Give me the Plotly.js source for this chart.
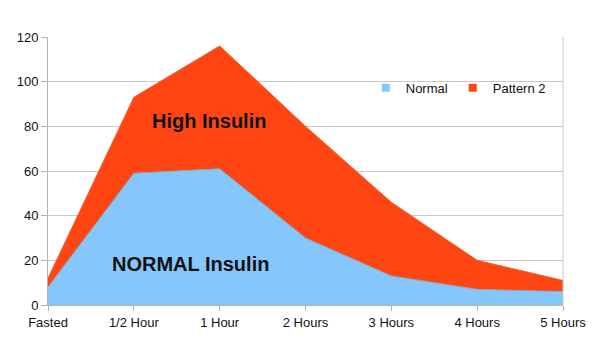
<!DOCTYPE html>
<html>
<head>
<meta charset="utf-8">
<script src="https://cdn.plot.ly/plotly-3.0.1.min.js"></script>
<style>html,body{margin:0;padding:0;background:#fff;}#chart{width:610px;height:364px;}</style>
</head>
<body>
<div id="chart"></div>
<script>
var categories = ["Fasted", "1/2 Hour", "1 Hour", "2 Hours", "3 Hours", "4 Hours", "5 Hours"];
var normalValues = [8, 59, 61, 30, 13, 7, 6];
var pattern2Values = [12, 93, 116, 80, 46, 20, 11];
var seriesNames = ["Normal", "Pattern 2"];
var yTicks = [0, 20, 40, 60, 80, 100, 120];

var blue = "#85C7FA";
var red = "#FF4512";

var traces = [
  {x: categories, y: pattern2Values, type: "scatter", mode: "lines", fill: "tozeroy",
   fillcolor: red, line: {color: "#f0602e", width: 1}, showlegend: false, hoverinfo: "skip"},
  {x: categories, y: normalValues, type: "scatter", mode: "lines", fill: "tozeroy",
   fillcolor: blue, line: {color: "#8fa9c0", width: 1}, showlegend: false, hoverinfo: "skip"},
  {x: [null], y: [null], type: "scatter", mode: "markers", name: seriesNames[0],
   marker: {symbol: "square", size: 8, color: blue}},
  {x: [null], y: [null], type: "scatter", mode: "markers", name: seriesNames[1],
   marker: {symbol: "square", size: 8, color: red}}
];

var layout = {
  width: 610, height: 364,
  margin: {l: 48, r: 47, t: 37, b: 59, autoexpand: false},
  paper_bgcolor: "#ffffff", plot_bgcolor: "#ffffff",
  font: {family: "Liberation Sans, Arial, sans-serif", size: 13, color: "#111"},
  xaxis: {type: "category", categoryarray: categories, range: [0, 6],
          showgrid: false, zeroline: false, showline: true, linecolor: "#b3b3b3", linewidth: 1,
          mirror: false, ticks: "outside", ticklen: 5, tickcolor: "#b3b3b3",
          tickfont: {size: 13, color: "#111"}, fixedrange: true},
  yaxis: {range: [0, 120], tickvals: yTicks, showgrid: true, gridcolor: "#c8c8c8", gridwidth: 1,
          zeroline: false, showline: true, linecolor: "#b3b3b3", linewidth: 1,
          ticks: "outside", ticklen: 6, tickcolor: "#b3b3b3",
          tickfont: {size: 13, color: "#111"}, fixedrange: true},
  shapes: [{type: "line", xref: "paper", yref: "paper", x0: 1, x1: 1, y0: 0, y1: 1,
            line: {color: "#c8c8c8", width: 1}}],
  showlegend: true,
  legend: {orientation: "h", x: 0.617, y: 0.81, xanchor: "left", yanchor: "middle",
           bgcolor: "rgba(0,0,0,0)", font: {size: 13, color: "#111"},
           itemgap: 0, itemwidth: 30},
  annotations: [
    {x: 1.87, y: 82.5, xref: "x", yref: "y", text: "High Insulin", showarrow: false,
     font: {size: 20, color: "#111", family: "Liberation Sans, Arial, sans-serif", weight: "bold"}},
    {x: 1.66, y: 18.5, xref: "x", yref: "y", text: "NORMAL Insulin", showarrow: false,
     font: {size: 20, color: "#111", family: "Liberation Sans, Arial, sans-serif", weight: "bold"}}
  ]
};

Plotly.newPlot("chart", traces, layout, {displayModeBar: false, staticPlot: true});
</script>
</body>
</html>
